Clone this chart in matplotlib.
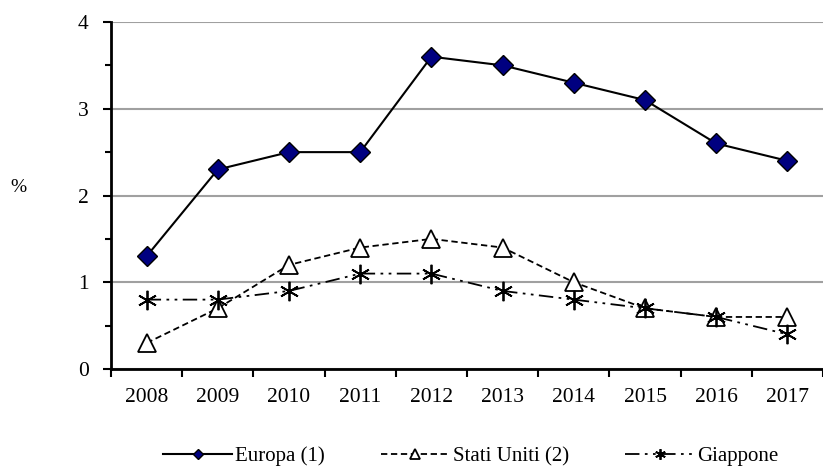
import matplotlib.pyplot as plt
import numpy as np

# Data
years = ['2008', '2009', '2010', '2011', '2012', '2013', '2014', '2015', '2016', '2017']
europa = [1.3, 2.3, 2.5, 2.5, 3.6, 3.5, 3.3, 3.1, 2.6, 2.4]
stati_uniti = [0.3, 0.7, 1.2, 1.4, 1.5, 1.4, 1.0, 0.7, 0.6, 0.6]
giappone = [0.8, 0.8, 0.9, 1.1, 1.1, 0.9, 0.8, 0.7, 0.6, 0.4]

plt.rcParams['font.family'] = ['Liberation Serif', 'DejaVu Serif']

fig = plt.figure(figsize=(8.23, 4.68), dpi=100)
ax = fig.add_axes([0.1349, 0.2115, 0.8651, 0.7415])

x = np.arange(len(years))

ax.plot(x, europa, color='black', lw=1.5, marker='D', markersize=10,
        markerfacecolor='#000080', markeredgecolor='black', markeredgewidth=1,
        label='Europa (1)', zorder=4)
ax.plot(x, stati_uniti, color='black', lw=1.3, ls=(0, (3.5, 2)), marker='^', markersize=13,
        markerfacecolor='white', markeredgecolor='black', markeredgewidth=1.3,
        label='Stati Uniti (2)', zorder=3)
ax.plot(x, giappone, color='black', lw=1.3, ls=(0, (8, 3, 1.5, 3, 1.5, 3)),
        marker=(6, 2, 0), markersize=14, markeredgewidth=1.3, markeredgecolor='black',
        label='Giappone', zorder=3)

# axes styling
ax.set_ylim(0, 4)
ax.set_xlim(-0.5, 9.43)
ax.set_yticks([0, 1, 2, 3, 4])
ax.set_yticks([0.5, 1.5, 2.5, 3.5], minor=True)
ax.yaxis.grid(True, color='#a0a0a0', lw=1.5)
ax.set_axisbelow(True)

ax.set_xticks(x)
ax.set_xticklabels(years)
ax.set_xticks(np.arange(-0.5, 10, 1), minor=True)
ax.tick_params(axis='x', which='major', length=0, pad=14, labelsize=15.5)
ax.tick_params(axis='x', which='minor', length=6, width=1.5, direction='out')
ax.tick_params(axis='y', which='major', length=6, width=1.5, direction='out', labelsize=15.5, pad=10)
ax.tick_params(axis='y', which='minor', length=4, width=1.5, direction='out')

for side in ['top', 'right']:
    ax.spines[side].set_visible(False)
for side in ['left', 'bottom']:
    ax.spines[side].set_linewidth(2)

fig.text(0.022, 0.60, '%', fontsize=14, va='center', ha='center')

fig.legend(loc='center', bbox_to_anchor=(0.572, 0.025), ncol=3, frameon=False,
           fontsize=15, handlelength=3.3, columnspacing=2.7, handletextpad=0.15,
           markerscale=0.55)

fig.savefig('out.png', dpi=100)
